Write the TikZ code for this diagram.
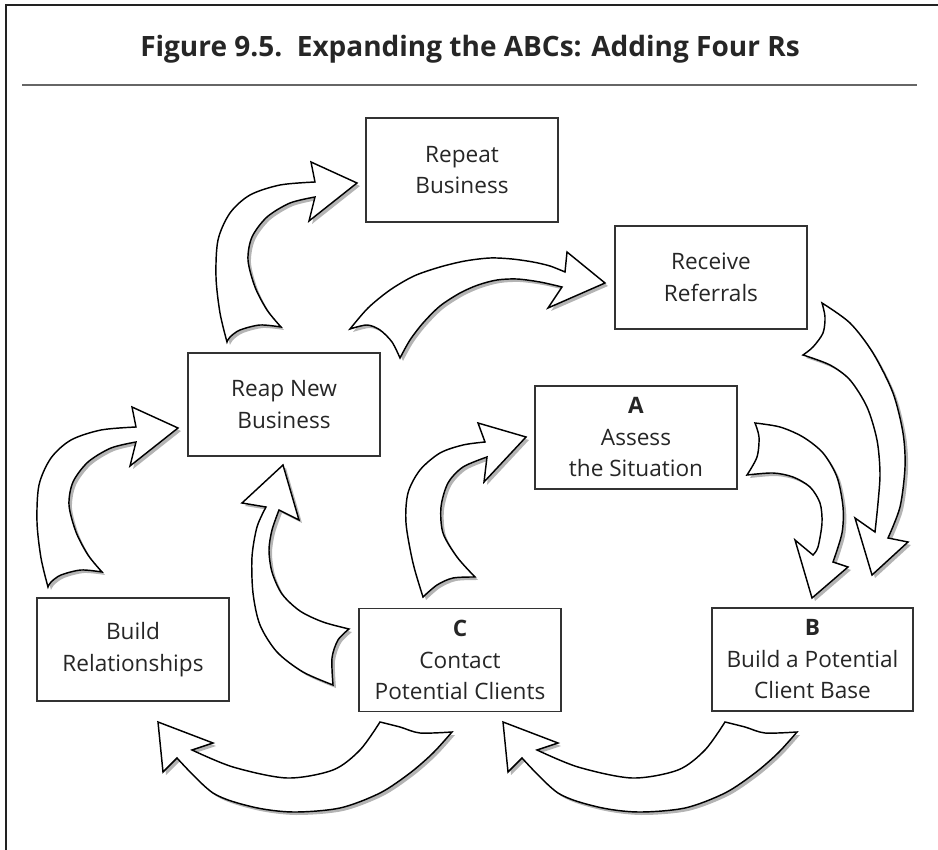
\documentclass[tikz,border=0pt]{standalone}
\usepackage{fontspec}
\setmainfont{Open Sans}
\definecolor{boxc}{HTML}{333333}
\definecolor{textc}{HTML}{262626}
\definecolor{shadowc}{HTML}{B4B4B4}
\definecolor{rulec}{HTML}{666666}
\definecolor{framec}{HTML}{222222}
\tikzset{
  box/.style={draw=boxc, line width=1.2pt, fill=white, inner sep=0pt, align=center,
    text=textc, font=\fontsize{22.6}{31.5}\selectfont},
  arrowbody/.style={fill=white, draw=black, line width=1.45pt, line join=miter},
}
\newcommand{\curvedarrow}[2][]{%
  \begin{scope}[#1]
    \fill[shadowc, shift={(3,3)}] #2;
    \filldraw[arrowbody] #2;
  \end{scope}}
\begin{document}
\begin{tikzpicture}[x=1pt,y=-1pt]
\useasboundingbox (0,0) rectangle (938,850);
% frame
\draw[framec, line width=1.8pt] (6,850) -- (6,5) -- (938,5);
\node[anchor=base, text=textc, font=\fontsize{28}{32}\selectfont\bfseries] (title) at (470,57)
  {Figure 9.5.\ \ Expanding the ABCs: Adding Four Rs};
\draw[rulec, line width=2pt] (22,85) -- (917,85);

% boxes
\node[box, minimum width=192pt, minimum height=104pt] (repeat) at (462,170) {Repeat\\Business};
\node[box, minimum width=192pt, minimum height=103pt] (receive) at (711,277.5) {Receive\\Referrals};
\node[box, minimum width=192pt, minimum height=103pt] (reap) at (284,404.5) {Reap New\\Business};
\node[box, minimum width=202pt, minimum height=103pt] (assess) at (636,437.5) {\textbf{A}\\Assess\\the Situation};
\node[box, minimum width=192pt, minimum height=103pt] (relate) at (133,649.5) {Build\\Relationships};
\node[box, minimum width=202pt, minimum height=103pt] (contact) at (460,660) {\textbf{C}\\Contact\\Potential Clients};
\node[box, minimum width=201pt, minimum height=103pt] (base) at (812.5,659.5) {\textbf{B}\\Build a Potential\\Client Base};

% Reap -> Repeat
\curvedarrow{plot[smooth] coordinates {(227,342) (220,313) (216,277) (218,240) (230,213) (250,195) (280,185) (315,182)} -- (311,162) -- (357,183) -- (309,221) -- (315,197) -- plot[smooth] coordinates {(315,197) (290,203) (267,217) (252,237) (248,260) (255,287) (267,310) (281,327)} -- plot[smooth] coordinates {(281,327) (260,325) (240,330) (230,337) (227,342)} -- cycle}
% Build Relationships -> Reap
\curvedarrow[shift={(-179,245)}]{plot[smooth] coordinates {(227,342) (220,313) (216,277) (218,240) (230,213) (250,195) (280,185) (315,182)} -- (311,162) -- (357,183) -- (309,221) -- (315,197) -- plot[smooth] coordinates {(315,197) (290,203) (267,217) (252,237) (248,260) (255,287) (267,310) (281,327)} -- plot[smooth] coordinates {(281,327) (260,325) (240,330) (230,337) (227,342)} -- cycle}
% C -> A
\curvedarrow{plot[smooth] coordinates {(423,597) (413,563) (406,523) (408,493) (420,470) (440,453) (463,445) (485,442)} -- (478,423) -- (526,437) -- (484,482) -- (487,457) -- plot[smooth] coordinates {(487,457) (463,467) (448,483) (441,507) (443,533) (457,557) (475,577)} -- plot[smooth] coordinates {(475,577) (453,578) (437,585) (423,597)} -- cycle}
% C -> Reap
\curvedarrow{(283,465) -- (299,520) -- (279,510) -- plot[smooth] coordinates {(279,510) (272,530) (269,550) (272,572) (282,594) (300,611) (323,622) (349,629)} -- plot[smooth] coordinates {(349,629) (338,640) (332,658) (333,685)} -- plot[smooth] coordinates {(333,685) (303,672) (277,652) (260,625) (253,593) (252,557) (257,527) (266,507)} -- (242,503) -- cycle}
% Reap -> Receive
\curvedarrow{plot[smooth] coordinates {(350,329) (368,308) (390,290) (414,276) (440,267) (465,261) (490,258) (512,259) (533,262) (550,266) (565,272)} -- (567,252) -- (605,283) -- (548,308) -- (562,287) -- plot[smooth] coordinates {(562,287) (540,282) (517,279) (497,280) (478,285) (460,293) (440,306) (423,323) (410,340) (400,358)} -- plot[smooth] coordinates {(400,358) (392,342) (380,330) (367,325) (350,329)} -- cycle}
% Receive -> B
\curvedarrow{plot[smooth] coordinates {(822,303) (825,317) (823,333) (813,347) (803,355)} -- plot[smooth] coordinates {(803,355) (830,365) (850,380) (867,407) (877,440) (880,473) (878,503) (875,532)} -- (855,518) -- (872,575) -- (908,542) -- (888,538) -- plot[smooth] coordinates {(888,538) (900,507) (905,467) (903,433) (893,393) (873,353) (850,323) (822,303)} -- cycle}
% A -> B
\curvedarrow{plot[smooth] coordinates {(755,423) (759,437) (757,457) (747,475)} -- plot[smooth] coordinates {(747,475) (773,473) (793,477) (810,487) (820,503) (822,523) (818,547) (813,555)} -- (795,540) -- (812,598) -- (848,567) -- (833,562) -- plot[smooth] coordinates {(833,562) (842,533) (843,507) (837,477) (823,453) (803,437) (780,427) (755,423)} -- cycle}
% C -> Build Relationships
\curvedarrow{plot[smooth] coordinates {(380,722) (400,727) (420,733) (452,732)} -- plot[smooth] coordinates {(452,732) (433,753) (410,773) (380,793) (340,808) (293,812) (253,807) (213,793) (177,758)} -- (163,772) -- (158,722) -- (213,743) -- (192,750) -- plot[smooth] coordinates {(192,750) (233,767) (287,778) (333,770) (360,750) (380,722)} -- cycle}
% B -> C
\curvedarrow[shift={(345,0)}]{plot[smooth] coordinates {(380,722) (400,727) (420,733) (452,732)} -- plot[smooth] coordinates {(452,732) (433,753) (410,773) (380,793) (340,808) (293,812) (253,807) (213,793) (177,758)} -- (163,772) -- (158,722) -- (213,743) -- (192,750) -- plot[smooth] coordinates {(192,750) (233,767) (287,778) (333,770) (360,750) (380,722)} -- cycle}
\end{tikzpicture}
\end{document}
